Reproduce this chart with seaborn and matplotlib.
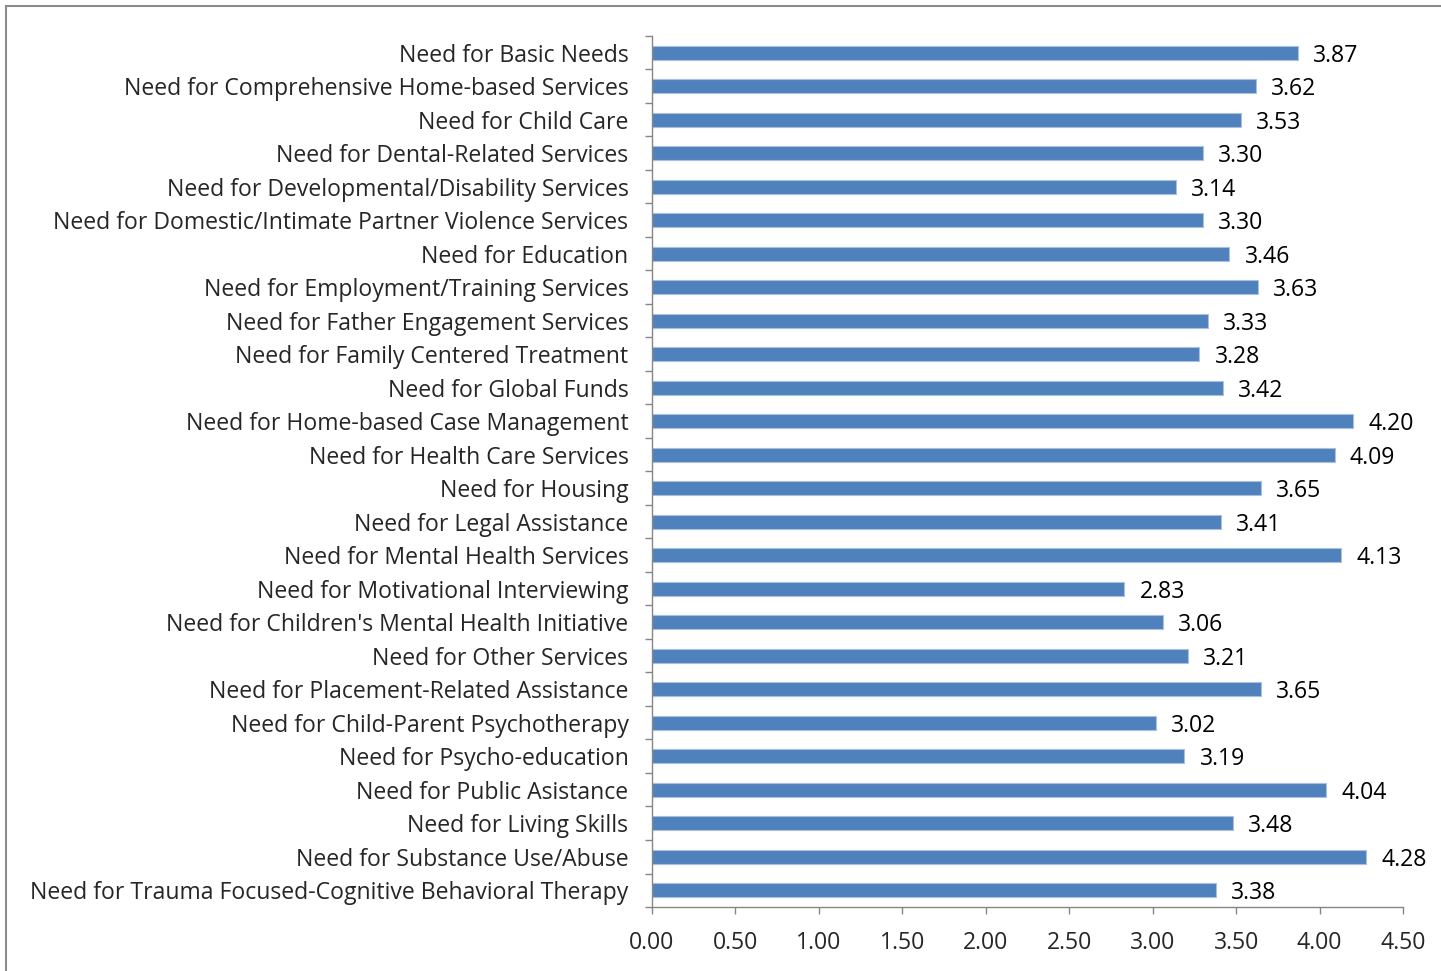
import matplotlib
matplotlib.use('Agg')
import matplotlib.pyplot as plt
import seaborn as sns
import pandas as pd
import numpy as np
from matplotlib.patches import Rectangle

needs = [
  'Need for Basic Needs',
  'Need for Comprehensive Home-based Services',
  'Need for Child Care',
  'Need for Dental-Related Services',
  'Need for Developmental/Disability Services',
  'Need for Domestic/Intimate Partner Violence Services',
  'Need for Education',
  'Need for Employment/Training Services',
  'Need for Father Engagement Services',
  'Need for Family Centered Treatment',
  'Need for Global Funds',
  'Need for Home-based Case Management',
  'Need for Health Care Services',
  'Need for Housing',
  'Need for Legal Assistance',
  'Need for Mental Health Services',
  'Need for Motivational Interviewing',
  "Need for Children's Mental Health Initiative",
  'Need for Other Services',
  'Need for Placement-Related Assistance',
  'Need for Child-Parent Psychotherapy',
  'Need for Psycho-education',
  'Need for Public Asistance',
  'Need for Living Skills',
  'Need for Substance Use/Abuse',
  'Need for Trauma Focused-Cognitive Behavioral Therapy',
]
scores = [3.87, 3.62, 3.53, 3.30, 3.14, 3.30, 3.46, 3.63, 3.33, 3.28, 3.42, 4.20, 4.09,
          3.65, 3.41, 4.13, 2.83, 3.06, 3.21, 3.65, 3.02, 3.19, 4.04, 3.48, 4.28, 3.38]
xticks = [0.0, 0.5, 1.0, 1.5, 2.0, 2.5, 3.0, 3.5, 4.0, 4.5]

df = pd.DataFrame({'need': needs, 'score': scores})

sns.set_style('white')
plt.rcParams['font.family'] = ['Open Sans', 'DejaVu Sans']
fs = 16.6

fig = plt.figure(figsize=(14.41, 9.71), dpi=100)
ax = fig.add_axes([652/1441, 1 - 907/971, (1403 - 652)/1441, (907 - 36)/971])

# chart area border
fig.patches.append(Rectangle((6/1441, -0.1), 1.2, 1 - 6/971 + 0.1, transform=fig.transFigure,
                             fill=False, edgecolor='#8c8c8c', linewidth=1.5))

sns.barplot(data=df, x='score', y='need', orient='h', ax=ax, width=0.42,
            color='#4F81BD', edgecolor='#a9c0de', linewidth=0.8, saturation=1)

labels = ax.bar_label(ax.containers[0], fmt='%.2f', padding=11, fontsize=fs, color='black')
for t in labels:
  t.set_va('center_baseline')

ax.set_xlim(0, 4.5)
ax.set_ylim(len(needs) - 0.5, -0.5)
ax.set_xticks(xticks)
ax.set_xticklabels(['{:.2f}'.format(t) for t in xticks], fontsize=fs)
ax.set_yticks(range(len(needs)))
ax.set_yticklabels(needs, fontsize=fs)
ax.set_yticks(np.arange(-0.5, len(needs)), minor=True)
ax.set_xlabel('')
ax.set_ylabel('')

ax.tick_params(axis='y', which='major', length=0, pad=17)
ax.tick_params(axis='y', which='minor', length=5, width=1, color='#868686', left=True)
ax.tick_params(axis='x', which='major', length=5, width=1, color='#868686', bottom=True, pad=12)

for side in ['top', 'right']:
  ax.spines[side].set_visible(False)
for side in ['left', 'bottom']:
  ax.spines[side].set_color('#868686')
  ax.spines[side].set_linewidth(1)

fig.savefig('out.png', dpi=100)
